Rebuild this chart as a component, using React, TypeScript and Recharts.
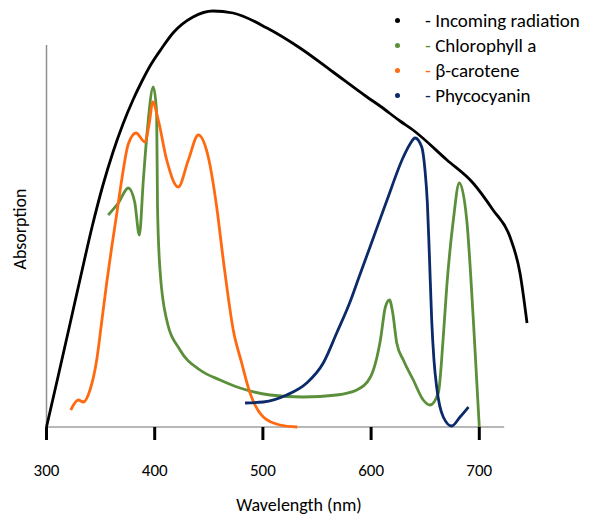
import { LineChart, Line, XAxis, YAxis, ReferenceLine } from "recharts";

const font = "Carlito, Lato, sans-serif";

const xTicks = [300, 400, 500, 600, 700];

// incoming radiation (black)
const radiationNm = [300, 310.6, 321.7, 331.9, 342.1, 352.2, 361.5, 370.7, 379.9, 388.3, 395.7, 406.7, 416.9, 435.4, 453.9, 472.4, 503.8, 534.3, 564.8, 596.2, 608.2, 626.7, 638.7, 670.1, 694.2, 712.7, 728.4, 737.6, 744.1];
const radiationAbs = [0, 50, 103, 152, 200, 242, 275, 303, 327, 346, 361, 379, 394, 410, 416, 414, 399, 379, 355, 330, 321, 306, 297, 267, 244, 217, 190, 154, 104];

// chlorophyll a (green)
const chlorophyllNm = [357, 366.4, 375.6, 381.5, 385.8, 389.5, 393.2, 398.7, 401.8, 402.6, 404.9, 411.1, 423.4, 441.9, 460.4, 478.9, 506.6, 537.3, 568.2, 586.7, 599.4, 608.6, 613.2, 617, 620, 623.7, 629.8, 639, 648.2, 654.4, 662.1, 666.7, 669.9, 676, 681.5, 688.4, 694.5, 700];
const chlorophyllAbs = [212, 224, 239, 225, 192, 247, 297, 340, 314, 220, 157, 107, 77, 57, 47, 39, 32, 30, 32, 37, 50, 87, 120, 127, 114, 84, 67, 47, 27, 22, 34, 90, 140, 207, 244, 207, 107, 0];

// beta-carotene (orange)
const caroteneNm = [322.4, 329.4, 334, 340.2, 346.4, 351, 355.6, 360.3, 364.9, 369.5, 375.6, 382.7, 391, 395, 398.2, 403.3, 411.1, 421.8, 431.1, 440.3, 449.5, 457.3, 463.4, 472.6, 480.4, 488.1, 500.4, 515.8, 531.8];
const caroteneAbs = [17, 27, 25, 37, 67, 105, 144, 180, 213, 247, 283, 294, 285, 304, 325, 307, 267, 240, 267, 292, 270, 220, 167, 97, 64, 34, 10, 2, 0];

// phycocyanin (blue)
const phycocyaninNm = [483.5, 500.4, 522, 540.5, 555.8, 568.2, 580.5, 588.2, 599, 614.4, 629.8, 636, 640.6, 646.8, 649.8, 652, 653.8, 656, 658.1, 660.6, 666.7, 674.5, 682.2, 690];
const phycocyaninAbs = [24, 25, 32, 44, 64, 94, 125, 148, 180, 226, 270, 283, 289, 280, 257, 224, 174, 107, 67, 40, 10, 1, 10, 20];

const zip = (xs: number[], ys: number[]) => xs.map((x, i) => ({ x, y: ys[i] }));

const series = [
  { name: "Incoming radiation", color: "#000000", data: zip(radiationNm, radiationAbs) },
  { name: "Chlorophyll a", color: "#5b8f3a", data: zip(chlorophyllNm, chlorophyllAbs) },
  { name: "β-carotene", color: "#ff6a10", data: zip(caroteneNm, caroteneAbs) },
  { name: "Phycocyanin", color: "#0b2a6a", data: zip(phycocyaninNm, phycocyaninAbs) },
];

const YTitle = () => (
  <text
    x={20}
    y={229}
    transform="rotate(-90 20 229)"
    textAnchor="middle"
    dominantBaseline="central"
    fontFamily={font}
    fontSize={18}
    fill="#000"
  >
    Absorption
  </text>
);

const XTitle = () => (
  <text x={299} y={511} textAnchor="middle" fontFamily={font} fontSize={18} fill="#000">
    Wavelength (nm)
  </text>
);

export default function App() {
  return (
    <div style={{ position: "relative", width: 598, height: 521, background: "#fff" }}>
      <style>{"body{margin:0}"}</style>
      <LineChart width={598} height={521} margin={{ top: 7, right: 64.6, bottom: 0, left: 0 }}>
        <XAxis
          dataKey="x"
          type="number"
          domain={[300, 750]}
          ticks={xTicks}
          axisLine={false}
          tickSize={13}
          tickMargin={24}
          tickLine={{ stroke: "#000", strokeWidth: 3 }}
          tick={{ fill: "#000", fontSize: 17, fontFamily: font }}
          height={94}
          label={{ value: "Wavelength (nm)", content: XTitle }}
        />
        <YAxis
          type="number"
          domain={[0, 420]}
          width={46.5}
          tick={false}
          tickLine={false}
          axisLine={false}
          label={{ value: "Absorption", content: YTitle }}
        />
        <ReferenceLine
          segment={[{ x: 300, y: 0 }, { x: 723, y: 0 }]}
          stroke="#a0a0a0"
          strokeWidth={1.5}
          ifOverflow="visible"
        />
        <ReferenceLine
          segment={[{ x: 300, y: 0 }, { x: 300, y: 382 }]}
          stroke="#909090"
          strokeWidth={1.5}
          ifOverflow="visible"
        />
        {series.map((s) => (
          <Line
            key={s.name}
            data={s.data}
            dataKey="y"
            type="monotone"
            stroke={s.color}
            strokeWidth={2.8}
            dot={false}
            activeDot={false}
            isAnimationActive={false}
          />
        ))}
      </LineChart>
      <div
        style={{
          position: "absolute",
          left: 394.5,
          top: 7.5,
          fontFamily: font,
          fontSize: 19,
          color: "#000",
        }}
      >
        {series.map((s) => (
          <div key={s.name} style={{ display: "flex", alignItems: "center", height: 25.2, whiteSpace: "nowrap" }}>
            <span
              style={{ width: 5, height: 5, borderRadius: "50%", background: s.color, display: "inline-block" }}
            />
            <span style={{ marginLeft: 25.5 }}>
              <span style={{ color: s.color }}>-</span> {s.name}
            </span>
          </div>
        ))}
      </div>
    </div>
  );
}
